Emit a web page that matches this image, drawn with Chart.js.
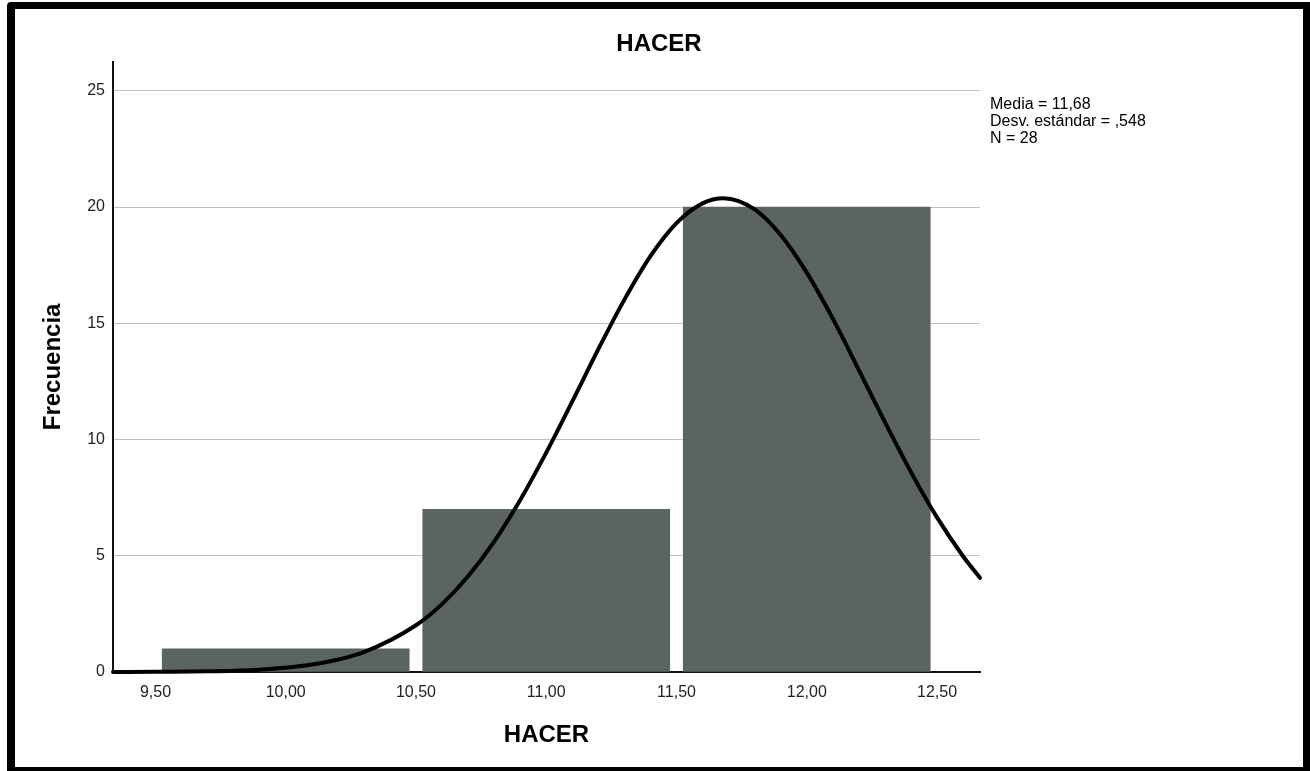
<!DOCTYPE html>
<html>
<head>
<meta charset="utf-8">
<script src="https://cdn.jsdelivr.net/npm/chart.js@4.4.1/dist/chart.umd.min.js"></script>
<style>
  html, body { margin: 0; padding: 0; background: #fff; }
  #wrap { position: relative; width: 1310px; height: 771px; overflow: hidden; }
  #frame { position: absolute; left: 7px; top: 2px; width: 1304px; height: 771px; box-sizing: border-box;
           border-style: solid; border-color: #000; border-width: 7px 8px 6px 8px; border-radius: 4px 0 0 0; pointer-events: none; }
  canvas { position: absolute; left: 0; top: 0; }
</style>
</head>
<body>
<div id="wrap">
  <canvas id="hist" width="1310" height="771"></canvas>
  <div id="frame"></div>
</div>
<script>
// histogram bins (bin centers) and counts
var binCenters = [10, 11, 12];
var binCounts = [1, 7, 20];

// normal curve
var curveX = [9.337, 9.5, 9.7, 9.9, 10.1, 10.3, 10.5, 10.6, 10.7, 10.8, 10.9, 11.0, 11.1, 11.2, 11.3, 11.4, 11.5, 11.6, 11.68, 11.8, 11.9, 12.0, 12.1, 12.2, 12.3, 12.4, 12.5, 12.6, 12.665];
var curveY = [0.0, 0.01, 0.03, 0.10, 0.32, 0.86, 2.01, 2.92, 4.12, 5.61, 7.40, 9.44, 11.64, 13.89, 16.02, 17.89, 19.31, 20.16, 20.38, 19.90, 18.80, 17.18, 15.20, 12.99, 10.75, 8.60, 6.65, 4.98, 4.05];

var xTickValues = [9.5, 10, 10.5, 11, 11.5, 12, 12.5];
var xTickLabels = ['9,50', '10,00', '10,50', '11,00', '11,50', '12,00', '12,50'];
var yTickValues = [0, 5, 10, 15, 20, 25];

var statsLines = ['Media = 11,68', 'Desv. estándar = ,548', 'N = 28'];

var font = "'Liberation Sans', Arial, sans-serif";

var barData = [];
for (var i = 0; i < binCenters.length; i++) {
    barData.push({x: binCenters[i], y: binCounts[i]});
}
var lineData = [];
for (var i = 0; i < curveX.length; i++) {
    lineData.push({x: curveX[i], y: curveY[i]});
}

var statsPlugin = {
    id: 'stats',
    afterDraw: function(chart) {
        var ctx = chart.ctx;
        ctx.save();
        ctx.fillStyle = '#000';
        ctx.font = '16px ' + font;
        ctx.textBaseline = 'alphabetic';
        ctx.textAlign = 'left';
        for (var i = 0; i < statsLines.length; i++) {
            ctx.fillText(statsLines[i], chart.chartArea.right + 10, 109 + i * 17);
        }
        ctx.restore();
    }
};

var myChart = new Chart(document.getElementById('hist'), {
    type: 'bar',
    data: {
        datasets: [{
            type: 'line',
            data: lineData,
            borderColor: '#000',
            borderWidth: 4,
            borderCapStyle: 'round',
            pointRadius: 0,
            cubicInterpolationMode: 'monotone',
            fill: false,
            clip: false
        }, {
            type: 'bar',
            data: barData,
            backgroundColor: '#5b6560',
            borderWidth: 0,
            barThickness: 247
        }]
    },
    plugins: [statsPlugin],
    options: {
        responsive: false,
        animation: false,
        events: [],
        layout: { padding: { left: 8, top: 0, right: 0, bottom: 0 } },
        plugins: {
            legend: { display: false },
            tooltip: { enabled: false },
            title: {
                display: true,
                text: 'HACER',
                color: '#000',
                font: { family: font, size: 24, weight: 'bold', lineHeight: 1.2 },
                padding: { top: 30, bottom: 3 }
            }
        },
        scales: {
            x: {
                type: 'linear',
                offset: false,
                min: 9.337,
                max: 12.665,
                afterBuildTicks: function(scale) {
                    scale.ticks = xTickValues.map(function(v) { return {value: v}; });
                },
                afterFit: function(scale) { scale.height = 99; },
                grid: { display: false, offset: false },
                border: { display: true, color: '#111', width: 2 },
                ticks: {
                    autoSkip: false,
                    maxRotation: 0,
                    padding: 3,
                    color: '#222',
                    font: { family: font, size: 16 },
                    callback: function(value) {
                        var idx = xTickValues.indexOf(value);
                        return idx >= 0 ? xTickLabels[idx] : '';
                    }
                },
                title: {
                    display: true,
                    text: 'HACER',
                    color: '#000',
                    font: { family: font, size: 24, weight: 'bold', lineHeight: 1.2 },
                    padding: { top: 0, bottom: 21 }
                }
            },
            y: {
                min: 0,
                max: 26.25,
                afterBuildTicks: function(scale) {
                    scale.ticks = yTickValues.map(function(v) { return {value: v}; });
                },
                afterFit: function(scale) { scale.width = 105; },
                grid: { color: '#c0c0c0', lineWidth: 1, drawTicks: false },
                border: { display: true, color: '#111', width: 2 },
                ticks: {
                    padding: 8,
                    color: '#222',
                    font: { family: font, size: 16 }
                },
                title: {
                    display: true,
                    text: 'Frecuencia',
                    color: '#000',
                    font: { family: font, size: 24, weight: 'bold', lineHeight: 1.2 },
                    padding: { top: 31, bottom: 0 }
                }
            },
            yRight: {
                position: 'right',
                display: true,
                afterFit: function(scale) { scale.width = 330; },
                grid: { display: false, drawTicks: false },
                border: { display: false },
                ticks: { display: false }
            }
        }
    }
});
</script>
</body>
</html>
